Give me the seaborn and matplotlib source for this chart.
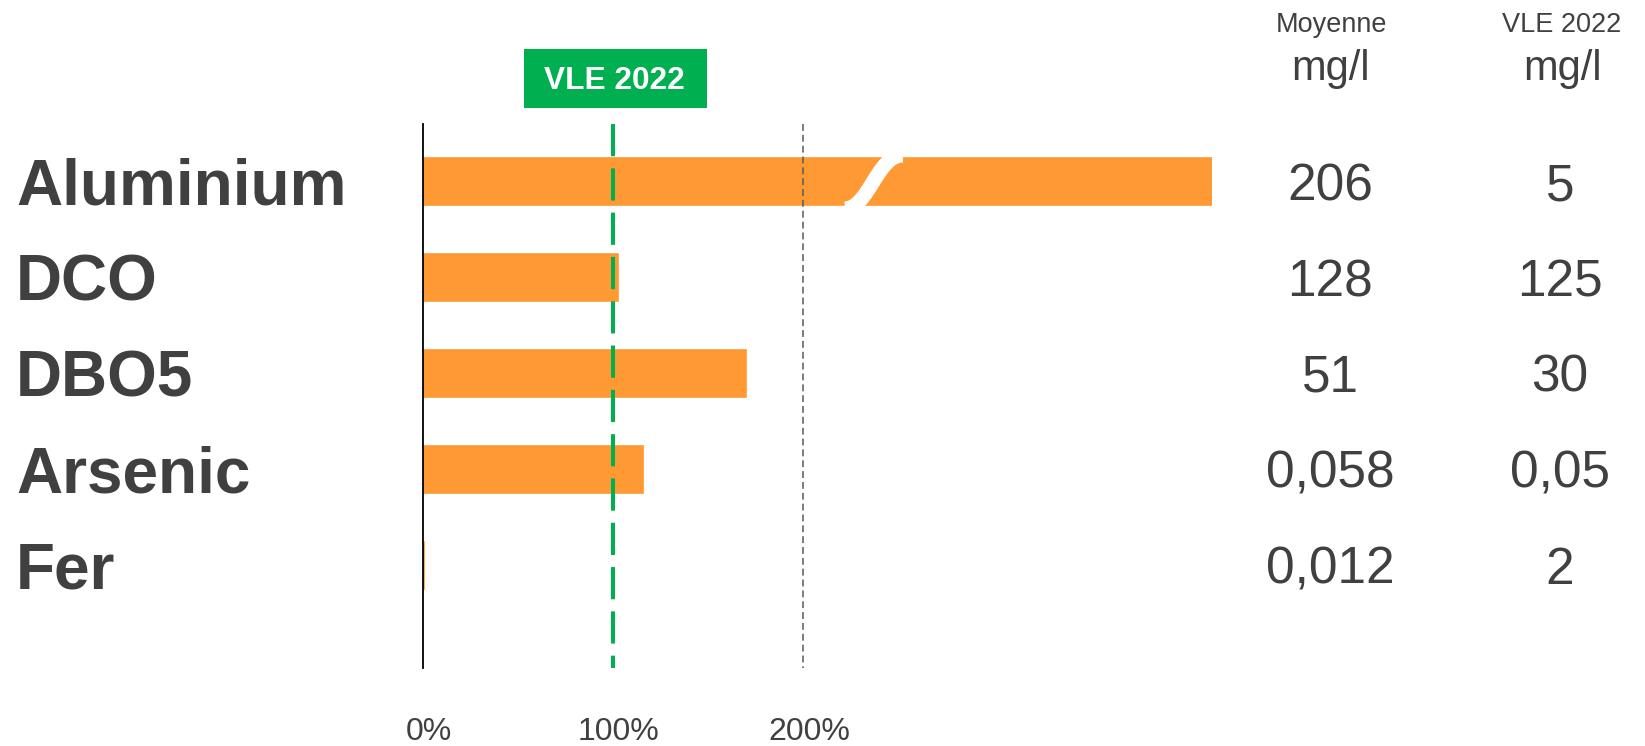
import numpy as np
import pandas as pd
import matplotlib
matplotlib.use('Agg')
import matplotlib.pyplot as plt
import seaborn as sns
from matplotlib.patches import Rectangle, PathPatch
from matplotlib.path import Path
from matplotlib.transforms import blended_transform_factory, ScaledTranslation

# ---------------- data ----------------
categories = ['Aluminium', 'DCO', 'DBO5', 'Arsenic', 'Fer']
moyenne = [206, 128, 51, 0.058, 0.012]          # mg/l
vle_2022 = [5, 125, 30, 0.05, 2]                 # mg/l
moyenne_labels = ['206', '128', '51', '0,058', '0,012']
vle_labels = ['5', '125', '30', '0,05', '2']
x_ticks = [0, 100, 200]
x_tick_labels = ['0%', '100%', '200%']
vle_line_label = 'VLE 2022'
col_headers = ['Moyenne', 'VLE 2022']
unit = 'mg/l'

pct = [m / v * 100 for m, v in zip(moyenne, vle_2022)]
df = pd.DataFrame({'param': categories, 'pct': pct})

# ---------------- style ----------------
W, H, DPI = 1645, 746, 100
sns.set_theme(style='white')
plt.rcParams['font.family'] = ['Liberation Sans', 'DejaVu Sans']
TEXT = '#404040'
ORANGE = '#FF9933'
GREEN = '#00B050'


def fx(px):
    return px / W


def fy(py):
    return 1 - py / H


fig = plt.figure(figsize=(W / DPI, H / DPI), dpi=DPI)
fig.patch.set_facecolor('white')

ax = fig.add_axes([fx(423), fy(668), 788.5 / W, 544 / H])
sns.barplot(data=df, x='pct', y='param', orient='h', color=ORANGE,
            saturation=1, width=0.49, linewidth=1.2, edgecolor=ORANGE, ax=ax)

ax.set_xlim(0, 415)
ax.set_ylim(5.073, -0.605)
ax.set_facecolor('none')
ax.grid(False)
ax.set_xlabel('')
ax.set_ylabel('')
ax.set_yticks([])
ax.set_xticks(x_ticks, x_tick_labels)
ax.tick_params(axis='x', length=0, labelsize=23, labelcolor=TEXT, pad=35)
for lbl in ax.get_xticklabels():
    lbl.set_transform(lbl.get_transform() + ScaledTranslation(0.06, 0, fig.dpi_scale_trans))
for s in ['top', 'right', 'bottom']:
    ax.spines[s].set_visible(False)
ax.spines['left'].set_color('black')
ax.spines['left'].set_linewidth(1.3)
ax.spines['left'].set_zorder(5)

# reference lines
xt = ax.get_xaxis_transform()
ax.plot([100, 100], [1, 0], transform=xt, color=GREEN, lw=2.9,
        dashes=(8, 3), dash_capstyle='butt', zorder=3, clip_on=False)
ax.plot([200, 200], [1, 0], transform=xt, color='#595959', lw=1.1,
        dashes=(4.5, 2.6), dash_capstyle='butt', zorder=3, clip_on=False)

# axis-break mark on the first (truncated) bar
brk = Path([(222.0, 0.28), (234.5, 0.28), (239.0, -0.28), (252.5, -0.28)],
           [Path.MOVETO, Path.CURVE4, Path.CURVE4, Path.CURVE4])
ax.add_patch(PathPatch(brk, facecolor='none', edgecolor='white', lw=10.5,
                       capstyle='butt', zorder=4))

# category labels and value columns
row_tr = blended_transform_factory(fig.transFigure, ax.transData)
for i, name in enumerate(categories):
    fig.text(fx(16), i, name, transform=row_tr + ScaledTranslation(0, -0.229, fig.dpi_scale_trans),
             ha='left', va='baseline', fontsize=46, fontweight='bold', color=TEXT)
    fig.text(fx(1330), i, moyenne_labels[i], transform=row_tr + ScaledTranslation(0, -0.184, fig.dpi_scale_trans),
             ha='center', va='baseline', fontsize=37, color=TEXT)
    fig.text(fx(1560), i, vle_labels[i], transform=row_tr + ScaledTranslation(0, -0.184, fig.dpi_scale_trans),
             ha='center', va='baseline', fontsize=37, color=TEXT)

# column headers
for cx, head in zip([1331, 1562], col_headers):
    fig.text(fx(cx), fy(32.3), head, ha='center', va='baseline', fontsize=19.5, color=TEXT)
    fig.text(fx(cx), fy(80), unit, ha='center', va='baseline', fontsize=30, color=TEXT)

# green VLE label box
fig.add_artist(Rectangle((fx(524), fy(107.7)), (706.7 - 524) / W, (107.7 - 49.3) / H,
                         transform=fig.transFigure, facecolor=GREEN, edgecolor='none'))
fig.text(fx(614.7), fy(89.3), vle_line_label, ha='center', va='baseline',
         fontsize=22.8, fontweight='bold', color='white')

fig.savefig('out.png', dpi=DPI, facecolor='white')
